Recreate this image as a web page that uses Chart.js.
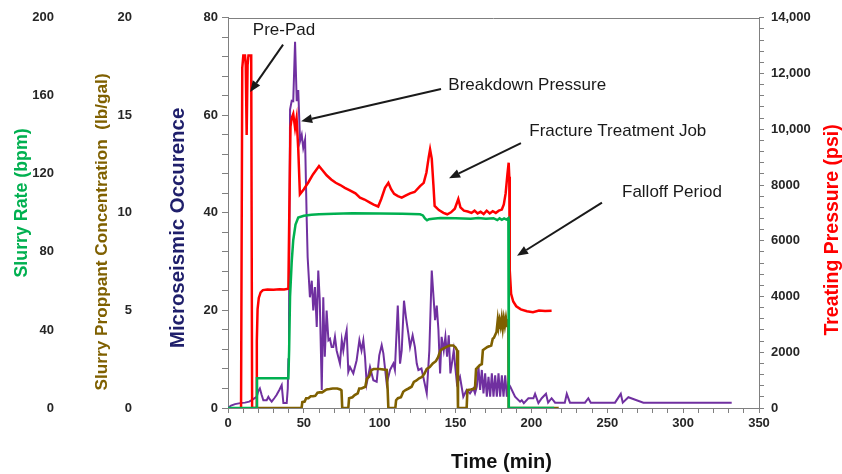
<!DOCTYPE html>
<html>
<head>
<meta charset="utf-8">
<title>Hydraulic fracture treatment record</title>
<script src="https://cdn.jsdelivr.net/npm/chart.js@4/dist/chart.umd.min.js"></script>
<style>
  html, body { margin: 0; padding: 0; background: #ffffff; }
  #wrap { width: 842px; height: 474px; position: relative; }
</style>
</head>
<body>
<div id="wrap"><canvas id="chart"></canvas></div>
<script>
// ---- Recorded series: [time (min), value] ----

// Treating pressure (psi)
const pressureSeries = [
  [8.6,0],[9.4,12200],[10.1,12650],[11.2,12650],[11.7,12300],[12.3,9800],[12.9,12300],[13.5,12650],[15.3,12650],[15.9,0],
  [18.7,0],[19.0,2400],[19.5,3550],[20.3,3950],[21.5,4150],[23,4230],[26,4250],[30,4240],[34,4260],[37,4250],[39.8,4280],
  [40.4,7000],[41.2,10100],[42,10400],[43,10550],[44.2,10050],[45.2,10400],[46.3,9300],[47.4,7670],
  [50,7850],[53,8100],[56,8380],[60,8680],[62,8550],[65,8350],[68,8200],[71,8080],[74,8000],[77,7900],[80,7820],
  [84,7700],[87,7550],[90,7480],[93.6,7370],[96,7300],[99,7230],[101,7500],[103.5,7900],[105.7,8080],[107.5,7850],
  [109.5,7680],[112,7600],[114.5,7550],[117,7620],[120,7700],[123,7750],[126.6,7960],[129,8080],[130.8,8450],
  [132.3,9000],[133.2,9280],[134.3,8950],[135.4,8000],[136.2,7250],[139,7100],[142,7000],[144.5,6950],[147,7020],
  [149.5,7150],[151.8,7500],[153.2,7200],[155.5,7080],[158,7050],[160.5,7000],[162.5,7080],[164.5,6980],[166.5,7040],
  [168.5,6960],[170.5,7080],[172.5,6980],[174.5,7060],[176.5,7000],[178.5,7080],[180.5,7120],[181.8,7300],[183,7700],
  [184.2,8400],[185,8800],[185.4,8300],[185.6,6000],[185.8,4950],[186.6,4100],[188,3820],[190,3650],[193,3540],
  [197,3470],[201,3440],[205,3500],[209,3480],[213.3,3490]
];

// Slurry rate (bpm)
const rateSeries = [
  [0,0],[18.8,0],[19.1,15.2],[39.8,15.2],[40.3,30],[40.9,57],[42,75],[43,86],[44.5,94],[46.3,97.6],[50,98.5],
  [55,99],[60,99.3],[70,99.6],[82,99.8],[100,99.7],[115,99.6],[126.6,99.3],[128.5,98.7],[129.8,97.2],[131.2,96.2],
  [132.5,96.8],[135,97.0],[140,97.4],[150,97.3],[160,97.0],[165,97.4],[170,97.0],[175,97.3],[177.5,96.3],[179,97.2],
  [180.5,96.5],[182,97.2],[183.5,96.6],[184.8,97.3],[185.1,0],[215,0]
];

// Slurry proppant concentration (lb/gal)
const proppantSeries = [
  [19,0],[48.5,0],[49,0.3],[50.5,0.33],[51.5,0.5],[53,0.5],[54.5,0.6],[56,0.6],[57.5,0.62],[59,0.78],[60.5,0.8],
  [62,0.8],[63.5,0.88],[65,0.95],[67,0.97],[69,1.0],[72,1.0],[74,0.95],[74.8,0.9],[75.3,0],[79.3,0],[79.8,0.5],
  [82,0.55],[83.5,0.66],[85.5,0.75],[86.5,1.0],[88,1.0],[90.5,1.09],[91.5,1.5],[93,1.6],[94.5,1.94],[96,2.0],
  [100,2.0],[104.6,1.95],[105.2,1.0],[105.7,0],[110.3,0],[110.8,0.4],[112,0.5],[114,0.55],[115.5,0.83],[117,0.92],
  [119,1.0],[121,1.09],[122.5,1.34],[124,1.4],[126,1.52],[128,1.6],[129.5,1.77],[131,2.0],[133,2.1],[135,2.28],
  [137,2.4],[138.5,2.6],[140,2.96],[142,3.05],[144,3.13],[146,3.2],[148.5,3.2],[150,3.1],[151,2.96],[151.6,0],
  [157.3,0],[157.8,0.92],[160,0.95],[162.8,1.0],[163.5,2.0],[164.2,2.05],[166,2.2],[167.3,2.25],[168,2.96],
  [168.6,3.0],[171,3.13],[173.5,3.2],[174.5,3.55],[175.3,3.6],[177,3.9],[177.8,4.5],[178.3,4.15],[179,4.5],
  [179.7,4.2],[180.4,4.6],[181.1,4.1],[181.8,4.58],[182.5,4.23],[183.2,4.6],[183.9,4.2],[184.4,4.55],[184.8,4.3],
  [185.0,0],[218,0]
];

// Microseismic occurrence (events)
const microseismicSeries = [
  [0,0],[2,0.5],[4.6,0.8],[8,1.0],[11.2,1.1],[14,1.3],[15.6,1.6],[18.9,2.3],[20,3.5],[21,4],[22.2,2.65],[23.3,1.6],
  [25.5,1.6],[26.6,2.3],[27.5,1.8],[28.8,1.3],[30.5,2],[32,2.65],[34,3.8],[35.4,4.7],[36.5,1],[38.7,1],[39.4,4],
  [39.8,10],[40.2,18],[40.9,61.2],[42,63],[43,62.9],[44.2,75.1],[45.3,62.9],[46.3,65.2],[47.5,54.7],[48.6,56],
  [49.6,53.3],[50.8,55],[51.9,38.4],[52.5,30.9],[54,22.7],[55.2,26.1],[56.2,20],[57.3,24.8],[58.5,16.6],[59.5,28.2],
  [60.5,22],[61.8,3.7],[62.8,22.7],[63.8,10.5],[65,20],[66.2,13.9],[67.2,14.2],[68.3,12.5],[69.4,12.5],[70.5,14.6],
  [71.6,11.8],[73.8,9.1],[75,13.9],[76,11.8],[77.1,14.2],[78.2,15.9],[79.3,7.4],[80.4,8.4],[82.6,7.1],[84.8,9.8],
  [86.6,13.9],[88,11.8],[89.2,13.9],[90.3,10.5],[91.4,5],[93.6,8.4],[95.8,5.7],[98,5.4],[99.7,10.8],[101.3,12.9],
  [102.4,11.2],[104.6,5],[106.8,7.8],[109,9.1],[110,7.8],[111.9,21],[113.4,9.1],[114.5,11.8],[116,22],[117.3,18.6],
  [118.9,15.2],[120,12.5],[121.7,14.9],[123.2,12.5],[124.4,9.1],[125.5,7.8],[127.5,8.1],[128.7,6.4],[131,3],
  [132.7,11.8],[134.3,28.2],[136.5,18],[137.6,21],[138.7,16],[139.8,7.1],[140.8,14.6],[142.2,11.8],[143.3,14.6],
  [144.4,10.5],[145.5,14.9],[146.6,7.1],[147.7,9.4],[148.8,11.8],[149.8,8.4],[150.9,5],[152.9,6.4],[155.1,2.3],
  [157.3,3.7],[159.5,3],[161.7,4],[162.8,3],[164,4.4],[165.1,8.4],[166.2,3.7],[167.3,7.8],[168.4,3],[169.5,7.1],
  [170.6,2.3],[171.7,6.4],[172.8,2.3],[173.9,7.1],[175,2.3],[176.1,6.7],[177.2,2.3],[178.3,7.1],[179.4,2.3],
  [180.5,6.7],[181.6,2.3],[182.7,6.7],[183.8,2.3],[184.8,5],[186,4.4],[189.2,2.3],[192.5,1.3],[193.6,1.6],[195,1],
  [198,2],[201.3,2],[202.4,2.9],[204.6,1],[206.8,2],[209.6,2.9],[211,1.1],[213.3,2],[215.6,1.1],[222,1.1],
  [223.3,2.9],[225.4,1.1],[235.3,1.1],[237.5,2],[239.1,1.1],[255.1,1.1],[258.9,2.9],[260.2,1.1],[263.9,2.2],
  [273.8,1.1],[332,1.1]
];

// Axis ranges and labelled tick steps
const timeRange = [0, 350];
const microseismicRange = [0, 80];
const proppantRange = [0, 20];
const rateRange = [0, 200];
const pressureRange = [0, 14000];

// Callout texts
const calloutTexts = ['Pre-Pad', 'Breakdown Pressure', 'Fracture Treatment Job', 'Falloff Period'];

// ---- Styling ----
const FONT = "'Liberation Sans', Arial, Helvetica, sans-serif";
const axisGray = '#808080';
const tickColor = '#262626';
const tickFont = { family: FONT, size: 13, weight: 'bold' };
const colors = {
  rate: '#00B050',
  proppant: '#7F6000',
  micro: '#7030A0',
  pressure: '#FF0000',
  microTitle: '#1F1F6B'
};

const toPoints = series => series.map(([x, y]) => ({ x, y }));
const fixedWidth = w => scale => { scale.width = w; };
const fixedHeight = h => scale => { scale.height = h; };

// Frame top edge, rotated axis titles and arrow callouts
const decorations = {
  id: 'decorations',
  afterDraw(chart) {
    const { ctx, chartArea: a, scales } = chart;
    const midY = (a.top + a.bottom) / 2;
    ctx.save();

    // top edge of the plot frame
    ctx.strokeStyle = axisGray;
    ctx.lineWidth = 1;
    ctx.beginPath();
    ctx.moveTo(a.left, Math.round(a.top) + 0.5);
    ctx.lineTo(a.right, Math.round(a.top) + 0.5);
    ctx.stroke();

    const title = (text, x, y, rot, size, color) => {
      ctx.save();
      ctx.translate(x, y);
      ctx.rotate(rot);
      ctx.font = `bold ${size}px ${FONT}`;
      ctx.fillStyle = color;
      ctx.textAlign = 'center';
      ctx.textBaseline = 'middle';
      ctx.fillText(text, 0, 0);
      ctx.restore();
    };
    const up = -Math.PI / 2;
    title('Slurry Rate (bpm)', scales.yRate.left + 22, midY - 10, up, 17.8, colors.rate);
    title('Slurry Proppant Concentration  (lb/gal)', scales.yConc.left + 36, midY + 19, up, 17.2, colors.proppant);
    title('Microseismic Occurence', scales.yMs.left + 28, midY + 15, up, 20.4, colors.microTitle);
    title('Treating Pressure (psi)', scales.yPsi.left + 74, midY + 17, up, 19.5, colors.pressure);
    title('Time (min)', (a.left + a.right) / 2 + 8, a.bottom + 54, 0, 20, '#111111');

    // callouts, anchored in time / microseismic units
    const X = v => scales.x.getPixelForValue(v);
    const Y = v => scales.yMs.getPixelForValue(v);
    const callouts = [
      { text: calloutTexts[0], at: [36.9, 77.4], align: 'center', from: [36.3, 74.5], to: [14.6, 64.8] },
      { text: calloutTexts[1], at: [145.2, 66.1], align: 'left', from: [140.4, 65.4], to: [48.2, 58.8] },
      { text: calloutTexts[2], at: [198.6, 56.8], align: 'left', from: [193.1, 54.3], to: [145.7, 47.1] },
      { text: calloutTexts[3], at: [259.7, 44.3], align: 'left', from: [246.5, 42.1], to: [190.5, 31.2] }
    ];
    ctx.font = `17px ${FONT}`;
    ctx.fillStyle = '#1a1a1a';
    ctx.strokeStyle = '#1a1a1a';
    ctx.textBaseline = 'middle';
    callouts.forEach(c => {
      ctx.textAlign = c.align;
      ctx.fillText(c.text, X(c.at[0]), Y(c.at[1]));
      const x1 = X(c.from[0]), y1 = Y(c.from[1]);
      const x2 = X(c.to[0]), y2 = Y(c.to[1]);
      const ang = Math.atan2(y2 - y1, x2 - x1);
      const head = 11, half = 4.5;
      const bx = x2 - head * Math.cos(ang), by = y2 - head * Math.sin(ang);
      ctx.lineWidth = 2;
      ctx.beginPath();
      ctx.moveTo(x1, y1);
      ctx.lineTo(bx, by);
      ctx.stroke();
      ctx.beginPath();
      ctx.moveTo(x2, y2);
      ctx.lineTo(bx + half * Math.sin(ang), by - half * Math.cos(ang));
      ctx.lineTo(bx - half * Math.sin(ang), by + half * Math.cos(ang));
      ctx.closePath();
      ctx.fill();
    });
    ctx.restore();
  }
};

const lineStyle = (color, width) => ({
  borderColor: color, backgroundColor: color, borderWidth: width,
  pointRadius: 0, tension: 0, fill: false
});

new Chart(document.getElementById('chart'), {
  type: 'line',
  data: {
    datasets: [
      { label: 'Slurry Rate (bpm)', data: toPoints(rateSeries), yAxisID: 'yRate', ...lineStyle(colors.rate, 2.5) },
      { label: 'Treating Pressure (psi)', data: toPoints(pressureSeries), yAxisID: 'yPsi', ...lineStyle(colors.pressure, 2.5) },
      { label: 'Slurry Proppant Concentration (lb/gal)', data: toPoints(proppantSeries), yAxisID: 'yConc', ...lineStyle(colors.proppant, 2.6) },
      { label: 'Microseismic Occurence', data: toPoints(microseismicSeries), yAxisID: 'yMs', ...lineStyle(colors.micro, 2) }
    ]
  },
  options: {
    responsive: true,
    maintainAspectRatio: false,
    devicePixelRatio: 1,
    animation: false,
    layout: { padding: { top: 15, right: 0, bottom: 0, left: 0 } },
    plugins: { legend: { display: false }, tooltip: { enabled: false } },
    scales: {
      x: {
        type: 'linear', position: 'bottom', min: timeRange[0], max: timeRange[1],
        afterFit: fixedHeight(66),
        border: { display: true, color: axisGray, width: 1 },
        grid: { drawOnChartArea: false, drawTicks: true, tickLength: 5, color: axisGray },
        ticks: {
          stepSize: 10, autoSkip: false, maxRotation: 0, padding: 3, font: tickFont, color: tickColor,
          callback: v => (v % 50 === 0 ? String(v) : '')
        }
      },
      yMs: {
        type: 'linear', position: 'left', weight: 0, min: microseismicRange[0], max: microseismicRange[1],
        afterFit: fixedWidth(78),
        border: { display: true, color: axisGray, width: 1 },
        grid: { drawOnChartArea: false, drawTicks: true, tickLength: 6, color: axisGray },
        ticks: {
          stepSize: 4, autoSkip: false, padding: 4, font: tickFont, color: tickColor,
          callback: v => (v % 20 === 0 ? String(v) : '')
        }
      },
      yConc: {
        type: 'linear', position: 'left', weight: 1, min: proppantRange[0], max: proppantRange[1],
        afterFit: fixedWidth(84),
        border: { display: false },
        grid: { display: false },
        ticks: { stepSize: 5, autoSkip: false, padding: 10, font: tickFont, color: tickColor }
      },
      yRate: {
        type: 'linear', position: 'left', weight: 2, min: rateRange[0], max: rateRange[1],
        afterFit: fixedWidth(66),
        border: { display: false },
        grid: { display: false },
        ticks: { stepSize: 40, autoSkip: false, padding: 4, font: tickFont, color: tickColor }
      },
      yPsi: {
        type: 'linear', position: 'right', min: pressureRange[0], max: pressureRange[1],
        afterFit: fixedWidth(83),
        border: { display: true, color: axisGray, width: 1 },
        grid: { drawOnChartArea: false, drawTicks: true, tickLength: 5, color: axisGray },
        ticks: {
          stepSize: 400, autoSkip: false, padding: 7, font: tickFont, color: tickColor,
          callback: v => (v % 2000 !== 0 ? '' : (v >= 10000 ? v.toLocaleString('en-US') : String(v)))
        }
      }
    }
  },
  plugins: [decorations]
});
</script>
</body>
</html>
